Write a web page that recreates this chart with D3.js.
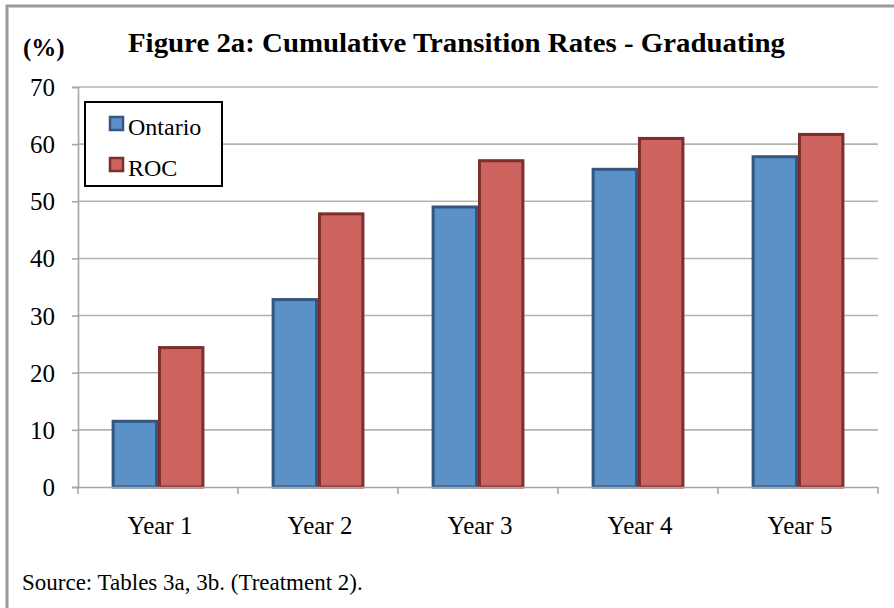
<!DOCTYPE html>
<html lang="en">
<head>
<meta charset="utf-8">
<title>Figure 2a</title>
<script src="https://d3js.org/d3.v7.min.js"></script>
<style>
  body { margin: 0; background: #fff; }
  text { font-family: "Liberation Serif", "Times New Roman", serif; fill: #000; }
</style>
</head>
<body>
<div id="chart"></div>
<script>
var categories = ["Year 1", "Year 2", "Year 3", "Year 4", "Year 5"]
var seriesNames = ["Ontario", "ROC"]
var ontario = [11.5, 32.8, 49.0, 55.6, 57.8]
var roc = [24.4, 47.8, 57.1, 61.0, 61.7]
var yTicks = [0, 10, 20, 30, 40, 50, 60, 70]

var width = 894, height = 608
var fills = ["#5b91c9", "#cd6460"]
var strokes = ["#35577f", "#7b2f2d"]

var svg = d3.select("#chart").append("svg")
    .attr("width", width)
    .attr("height", height)

// outer frame
svg.append("path")
    .attr("d", "M7," + height + "V6H" + width)
    .attr("fill", "none")
    .attr("stroke", "#9a9a9a")
    .attr("stroke-width", 3)

var x = d3.scaleBand()
    .domain(categories)
    .range([78, 878])
    .paddingInner(0.42)
    .paddingOuter(0.21)
var x1 = d3.scaleBand()
    .domain(seriesNames)
    .range([0, x.bandwidth()])
var y = d3.scaleLinear()
    .domain([0, 70])
    .range([487, 87])

// gridlines
svg.append("g")
    .selectAll("line")
    .data(yTicks.slice(1))
    .enter()
    .append("line")
    .attr("x1", 78).attr("x2", 878)
    .attr("y1", function(d) { return y(d) })
    .attr("y2", function(d) { return y(d) })
    .attr("stroke", "#b3b3b3")
    .attr("stroke-width", 1.6)

// y axis
var yAxis = svg.append("g")
    .attr("transform", "translate(78,0)")
    .call(d3.axisLeft(y).tickValues(yTicks).tickSize(6).tickPadding(17))
yAxis.select(".domain").attr("stroke", "#a6a6a6").attr("stroke-width", 1.6)
yAxis.selectAll(".tick line").attr("stroke", "#a6a6a6").attr("stroke-width", 1.6)
yAxis.selectAll(".tick text")
    .attr("font-size", 25)
    .attr("font-family", "Liberation Serif")
    .attr("fill", "#000")
    .attr("dy", "0.34em")

// bars
var groups = svg.append("g")
    .selectAll("g")
    .data(categories)
    .enter()
    .append("g")
    .attr("transform", function(d) { return "translate(" + x(d) + ",0)" })
groups.selectAll("rect")
    .data(function(d, i) { return [ontario[i], roc[i]].map(function(v, j) { return { key: seriesNames[j], value: v, j: j } }) })
    .enter()
    .append("rect")
    .attr("x", function(d) { return x1(d.key) + 1.5 })
    .attr("y", function(d) { return y(d.value) })
    .attr("width", x1.bandwidth() - 3)
    .attr("height", function(d) { return y(0) - y(d.value) })
    .attr("fill", function(d) { return fills[d.j] })
    .attr("stroke", function(d) { return strokes[d.j] })
    .attr("stroke-width", 3)

// x axis
var xAxisG = svg.append("g")
xAxisG.append("line")
    .attr("x1", 78).attr("x2", 878)
    .attr("y1", 487.5).attr("y2", 487.5)
    .attr("stroke", "#a6a6a6").attr("stroke-width", 1.6)
xAxisG.selectAll(".xt")
    .data(d3.range(categories.length + 1))
    .enter()
    .append("line")
    .attr("x1", function(i) { return 78 + i * x.step() })
    .attr("x2", function(i) { return 78 + i * x.step() })
    .attr("y1", 487).attr("y2", 494)
    .attr("stroke", "#a6a6a6").attr("stroke-width", 1.6)
xAxisG.selectAll("text")
    .data(categories)
    .enter()
    .append("text")
    .attr("x", function(d) { return x(d) + x.bandwidth() / 2 + 2 })
    .attr("y", 534)
    .attr("text-anchor", "middle")
    .attr("font-size", 25)
    .text(function(d) { return d })

// title and unit
svg.append("text")
    .attr("x", 128).attr("y", 52)
    .attr("font-size", 27)
    .attr("font-weight", "bold")
    .attr("textLength", 657)
    .attr("lengthAdjust", "spacingAndGlyphs")
    .text("Figure 2a: Cumulative Transition Rates - Graduating")
svg.append("text")
    .attr("x", 23).attr("y", 56)
    .attr("font-size", 25)
    .attr("font-weight", "bold")
    .text("(%)")

// legend
svg.append("rect")
    .attr("x", 85).attr("y", 102)
    .attr("width", 137).attr("height", 84)
    .attr("fill", "#fff")
    .attr("stroke", "#000")
    .attr("stroke-width", 2)
var leg = svg.append("g")
    .selectAll("g")
    .data(seriesNames)
    .enter()
    .append("g")
    .attr("transform", function(d, i) { return "translate(0," + (i * 41) + ")" })
leg.append("rect")
    .attr("x", 110).attr("y", 117)
    .attr("width", 13).attr("height", 13)
    .attr("fill", function(d, i) { return fills[i] })
    .attr("stroke", function(d, i) { return strokes[i] })
    .attr("stroke-width", 2.5)
leg.append("text")
    .attr("x", 128).attr("y", 135)
    .attr("font-size", 24)
    .text(function(d) { return d })

// source note
svg.append("text")
    .attr("x", 22).attr("y", 590)
    .attr("font-size", 23)
    .text("Source: Tables 3a, 3b. (Treatment 2).")
</script>
</body>
</html>
